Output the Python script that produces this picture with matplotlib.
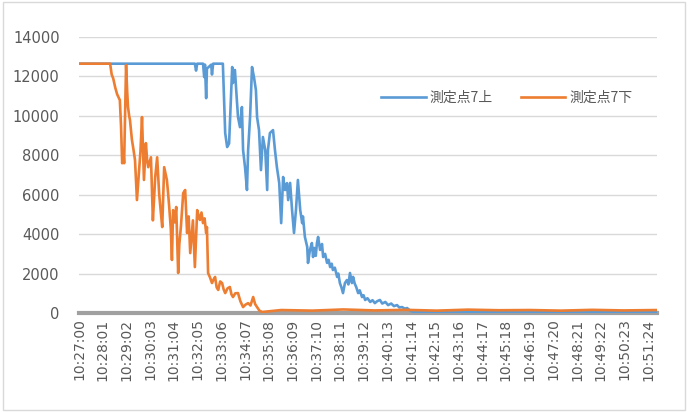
import matplotlib.pyplot as plt
from matplotlib.patches import Rectangle

plt.rcParams['font.family'] = ['Noto Sans CJK JP', 'DejaVu Sans']

# seconds after 10:27:00 and readings for each sensor
t_upper = [0, 298, 301, 304, 319, 322, 324, 327, 329, 340, 342, 345, 370, 376, 381, 386,
           394, 396, 401, 406, 409, 414, 419, 422, 427, 432, 435, 440, 445, 450, 455, 458,
           463, 468, 473, 479, 484, 486, 491, 499, 504, 509, 515, 520, 525, 530, 535, 538,
           543, 548, 553, 558, 563, 569, 574, 576, 581, 587, 589, 594, 599, 602, 605, 609,
           612, 615, 620, 625, 628, 633, 638, 642, 646, 650, 653, 658, 664, 667, 671, 675,
           679, 684, 689, 693, 697, 702, 705, 709, 713, 718, 722, 728, 732, 736, 742, 749,
           755, 761, 767, 774, 780, 788, 795, 803, 810, 818, 824, 831, 838, 844, 850, 854,
           864, 900, 960, 1040, 1120, 1200, 1280, 1360, 1440, 1487]
v_upper = [12650, 12650, 12300, 12650, 12650, 11970, 12600, 10900, 12400, 12600, 12100,
           12650, 12650, 9130, 8420, 8600, 12480, 11670, 12330, 10800, 9940, 9430, 10450,
           8270, 7400, 6240, 8270, 9940, 12480, 11970, 11310, 9940, 9280, 7250, 8930, 8270,
           6240, 8270, 9130, 9280, 8270, 7400, 6590, 4560, 6900, 6240, 6590, 5730, 6600,
           5220, 4060, 5220, 6750, 5220, 4560, 4900, 3860, 3350, 2540, 3200, 3550, 2840,
           3300, 2900, 3550, 3860, 3200, 3500, 2840, 3000, 2540, 2700, 2330, 2500, 2180,
           2300, 1830, 2000, 1520, 1300, 1010, 1520, 1670, 1450, 2030, 1520, 1830, 1500,
           1320, 1010, 1150, 810, 900, 660, 750, 560, 650, 500, 600, 660, 480, 560, 400,
           480, 350, 400, 280, 300, 220, 250, 150, 100, 30, 40, 20, 50, 30, 40, 20, 40, 30, 40]

t_lower = [0, 80, 84, 88, 93, 98, 105, 108, 111, 114, 116, 121, 124, 126, 129, 131, 136,
           140, 144, 149, 154, 158, 162, 167, 172, 175, 178, 185, 190, 193, 196, 201, 206,
           210, 214, 219, 226, 229, 232, 236, 239, 242, 246, 250, 255, 258, 262, 268, 273,
           278, 282, 286, 293, 298, 304, 308, 311, 315, 319, 323, 327, 329, 332, 337, 342,
           346, 350, 354, 358, 363, 368, 372, 376, 382, 388, 392, 396, 402, 409, 415, 422,
           428, 435, 441, 448, 453, 458, 464, 471, 520, 600, 680, 760, 840, 920, 1000,
           1080, 1160, 1240, 1320, 1400, 1487]
v_lower = [12650, 12650, 12100, 11900, 11450, 11100, 10800, 9500, 7600, 8200, 7600, 12580,
           11200, 10450, 10000, 9800, 8800, 8300, 7760, 5730, 7100, 8200, 9940, 6750, 8620,
           7800, 7400, 7900, 4700, 5800, 6900, 7900, 6080, 5200, 4360, 7400, 6750, 6100,
           5380, 4300, 2690, 5220, 4600, 5380, 2030, 3500, 4360, 6080, 6240, 4060, 4900,
           3040, 4700, 2330, 5220, 4900, 4720, 5100, 4560, 4800, 4060, 4360, 2030, 1800,
           1520, 1700, 1830, 1300, 1170, 1600, 1520, 1200, 1010, 1250, 1320, 950, 810, 1000,
           1010, 600, 300, 420, 500, 380, 810, 450, 300, 120, 50, 150, 120, 180, 130, 160,
           120, 170, 140, 150, 120, 160, 130, 150]

tick_pos = [61 * i for i in range(25)]
tick_labels = ['10:27:00', '10:28:01', '10:29:02', '10:30:03', '10:31:04', '10:32:05',
               '10:33:06', '10:34:07', '10:35:08', '10:36:09', '10:37:10', '10:38:11',
               '10:39:12', '10:40:13', '10:41:14', '10:42:15', '10:43:16', '10:44:17',
               '10:45:18', '10:46:19', '10:47:20', '10:48:21', '10:49:22', '10:50:23',
               '10:51:24']

text_col = '#595959'

fig = plt.figure(figsize=(6.89, 4.12), dpi=100)
ax = fig.add_axes([0.1147, 0.2403, 0.839, 0.6697])

ax.plot(t_upper, v_upper, color='#5B9BD5', lw=1.9, label='測定点7上', zorder=3)
ax.plot(t_lower, v_lower, color='#ED7D31', lw=1.9, label='測定点7下', zorder=4)

ax.set_xlim(0, 1487)
ax.set_ylim(0, 14000)
ax.set_yticks(range(0, 14001, 2000))
ax.set_xticks(tick_pos)
ax.set_xticklabels(tick_labels, rotation=90, fontsize=10, color=text_col,
                   family=['DejaVu Sans'])
for lab in ax.get_yticklabels():
    lab.set_family(['DejaVu Sans'])
ax.tick_params(axis='y', length=0, labelsize=10.5, labelcolor=text_col, pad=14)
ax.tick_params(axis='x', length=0, pad=4)

ax.grid(axis='y', color='#D9D9D9', lw=1)
ax.set_axisbelow(True)
for s in ['left', 'right', 'top']:
    ax.spines[s].set_visible(False)
ax.spines['bottom'].set_color('#A0A0A0')
ax.spines['bottom'].set_linewidth(3)
ax.spines['bottom'].set_zorder(2)

leg = ax.legend(loc='center', bbox_to_anchor=(0.74, 0.78), ncol=2, frameon=False,
                fontsize=10, handlelength=3.2, columnspacing=2.0, handletextpad=0.3)
for t in leg.get_texts():
    t.set_color(text_col)

fig.patches.append(Rectangle((0.004, 0.005), 0.99, 0.99, transform=fig.transFigure,
                             fill=False, edgecolor='#D9D9D9', lw=1))

fig.savefig('out.png', dpi=100)
